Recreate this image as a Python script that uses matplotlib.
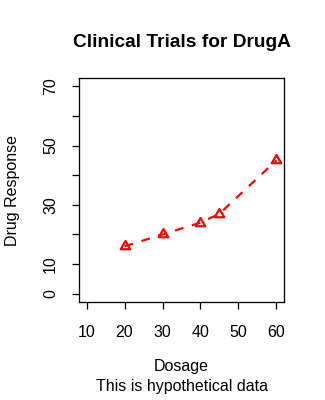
#!/usr/bin/env python3
"""
Clinical trial dose-response chart, base-R look
"""
import matplotlib
matplotlib.use('Agg')
import matplotlib.pyplot as plt
from matplotlib.path import Path
from matplotlib.ticker import FixedLocator, FixedFormatter

dose = [20, 30, 40, 45, 60]
drug_a = [16, 20, 24, 27, 45]

x_ticks = [10, 20, 30, 40, 50, 60]
y_ticks = [0, 10, 20, 30, 40, 50, 60, 70]
y_tick_labels = ['0', '10', '', '30', '', '50', '', '70']

plt.rcParams['font.family'] = ['Liberation Sans', 'DejaVu Sans']

DPI = 100
px = 72.0 / DPI  # points per pixel
FS = 16 * px     # R text: 16 px em
FS_MAIN = 1.2 * FS

# R-style open triangle (pch = 2), centred on its centroid
tri = Path([(0, 1), (-0.866, -0.5), (0.866, -0.5), (0, 1)],
           [Path.MOVETO, Path.LINETO, Path.LINETO, Path.CLOSEPOLY])

fig = plt.figure(figsize=(3.25, 4.0), dpi=DPI)
ax = fig.add_axes([79 / 325, 98 / 400, 205 / 325, 224 / 400])

ax.plot(dose, drug_a, color='red', linestyle=(0, (4, 4)), linewidth=2.2 * px,
        marker=tri, markersize=11 * px, markerfacecolor='none',
        markeredgecolor='red', markeredgewidth=2.2 * px)

ax.set_xlim(8, 62)
ax.set_ylim(-2.8, 72.8)

ax.xaxis.set_major_locator(FixedLocator(x_ticks))
ax.yaxis.set_major_locator(FixedLocator(y_ticks))
ax.yaxis.set_major_formatter(FixedFormatter(y_tick_labels))

for s in ax.spines.values():
    s.set_linewidth(1.3 * px)
ax.tick_params(direction='out', length=7 * px, width=1.3 * px,
               labelsize=FS, colors='black')
ax.tick_params(axis='x', pad=16 * px)
ax.tick_params(axis='y', pad=14 * px)
plt.setp(ax.get_yticklabels(), rotation=90, va='center')

ax.set_title('Clinical Trials for DrugA', fontsize=FS_MAIN, fontweight='bold',
             pad=31 * px)
ax.set_xlabel('Dosage', fontsize=FS, va='center')
ax.xaxis.set_label_coords((79 + 284) / 2 / 325, 1 - 367 / 400, transform=fig.transFigure)
ax.set_ylabel('Drug Response', fontsize=FS, va='center')
ax.yaxis.set_label_coords(13 / 325, 1 - (78 + 302) / 2 / 400, transform=fig.transFigure)
fig.text((79 + 284) / 2 / 325, 1 - 387 / 400, 'This is hypothetical data',
         ha='center', va='center', fontsize=FS)

fig.savefig('out.png', dpi=DPI)
